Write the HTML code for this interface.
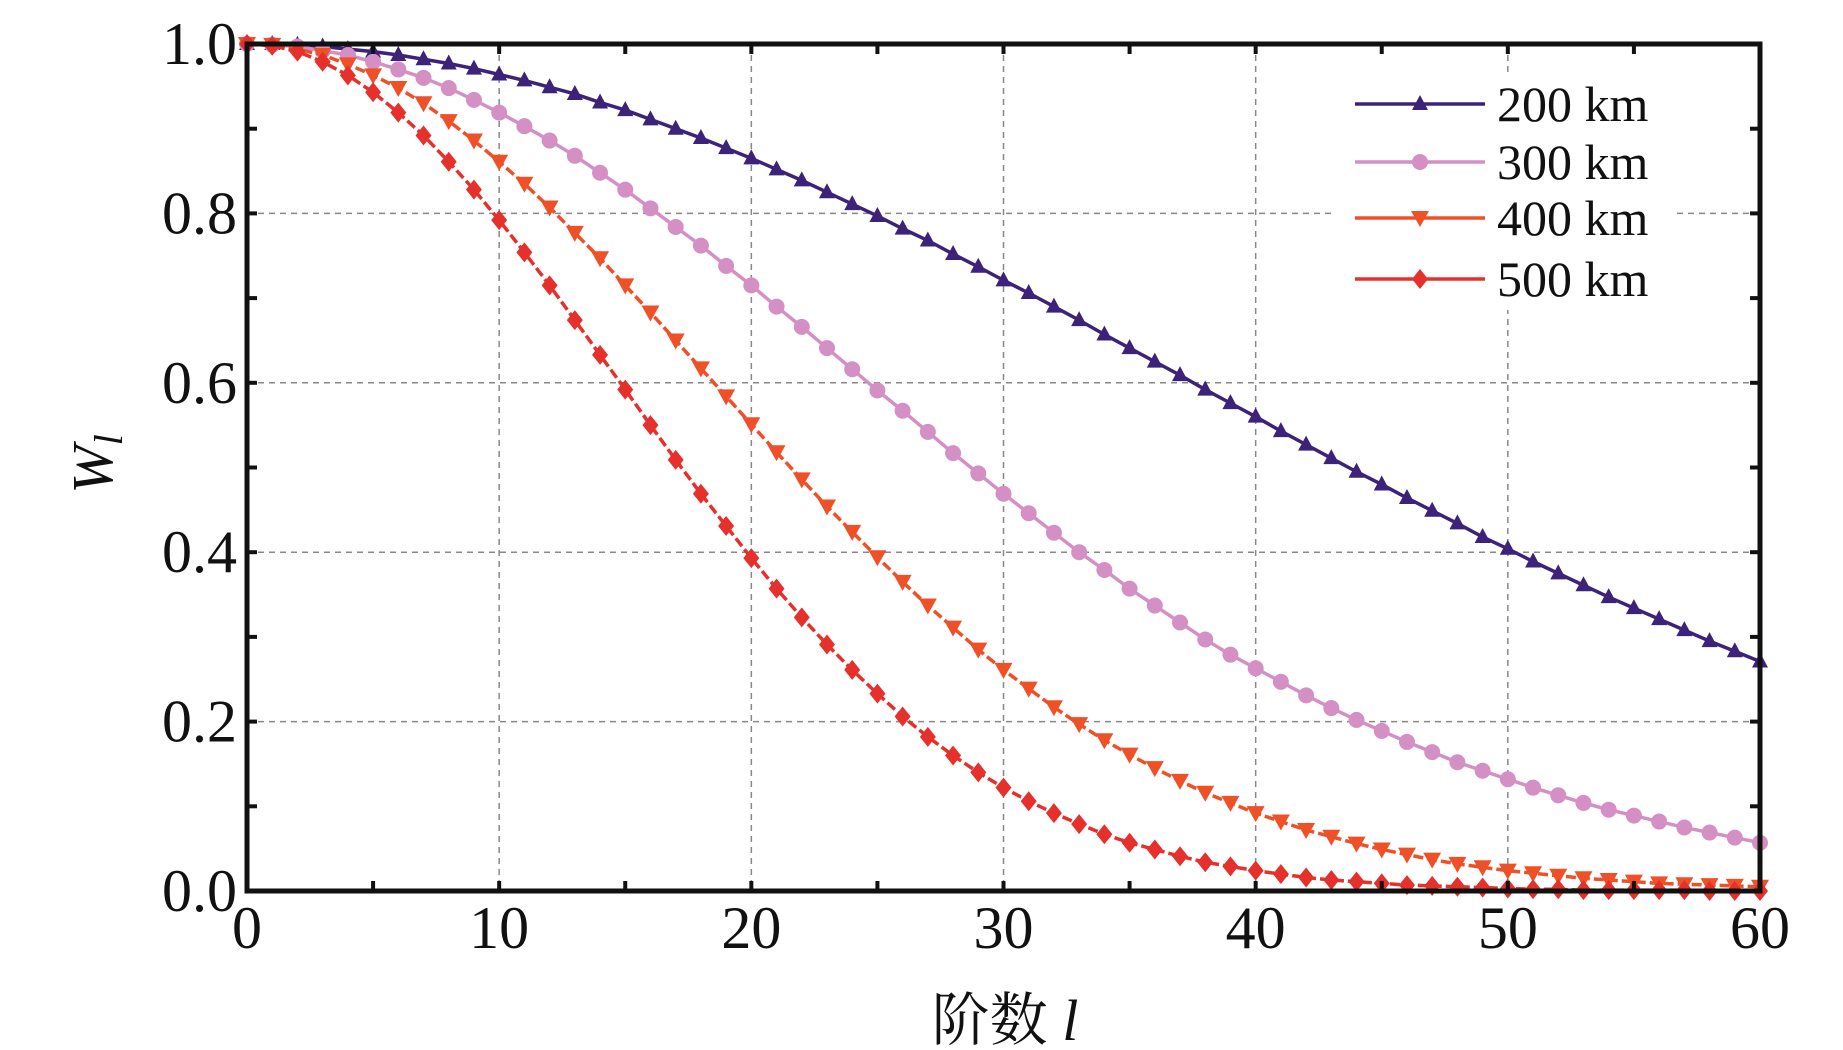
<!DOCTYPE html>
<html><head><meta charset="utf-8">
<style>
html,body{margin:0;padding:0;background:#fff;}
svg{display:block;}
text{font-family:"Liberation Serif","Times New Roman","DejaVu Serif","Noto Serif CJK SC",serif;fill:#111;}
</style></head>
<body>
<svg id="chart" width="1843" height="1050" xmlns="http://www.w3.org/2000/svg" font-family="Liberation Serif, Times New Roman, Noto Serif CJK SC, serif">
<g id="grid"></g>
<g id="series"></g>
<g id="legend"></g>
<g id="axes"></g>
<text x="1005" y="1040" font-size="58" text-anchor="middle">阶数 <tspan font-style="italic">l</tspan></text>
<text transform="translate(112,464) rotate(-90)" font-size="58" text-anchor="middle" font-style="italic">W<tspan font-size="40" dy="10">l</tspan></text>
</svg>
<script>
const xTicks = [0,10,20,30,40,50,60];
const yTicks = [0.0,0.2,0.4,0.6,0.8,1.0];
const yTickLabels = ["0.0","0.2","0.4","0.6","0.8","1.0"];
const seriesNames = ["200 km","300 km","400 km","500 km"];
const w200 = [1,1,.999,.997,.994,.991,.987,.982,.977,.971,.964,.957,.949,.941,.931,.922,.911,.900,.889,.877,.865,.852,.839,.825,.811,.797,.782,.768,.752,.737,.721,.706,.690,.674,.657,.641,.625,.609,.592,.576,.560,.543,.527,.511,.495,.480,.464,.449,.434,.418,.404,.389,.375,.361,.347,.334,.321,.308,.295,.283,.271];
const w300 = [1,.999,.997,.992,.987,.979,.970,.960,.948,.934,.919,.903,.886,.868,.848,.828,.806,.784,.762,.738,.715,.690,.666,.641,.616,.591,.567,.542,.517,.493,.469,.446,.423,.400,.379,.357,.337,.317,.297,.279,.263,.247,.231,.216,.202,.189,.176,.164,.152,.142,.132,.122,.113,.104,.096,.089,.082,.075,.069,.063,.057];
const w400 = [1,.999,.994,.987,.976,.963,.948,.930,.909,.886,.861,.835,.807,.777,.747,.715,.683,.650,.617,.584,.551,.518,.486,.454,.424,.394,.365,.337,.311,.285,.261,.239,.217,.197,.178,.161,.145,.130,.116,.104,.092,.082,.072,.064,.056,.049,.043,.037,.032,.028,.024,.021,.018,.015,.013,.011,.009,.008,.007,.006,.005];
const w500 = [1,.998,.991,.979,.963,.943,.919,.892,.861,.828,.792,.754,.715,.674,.633,.592,.550,.509,.469,.431,.393,.357,.323,.291,.261,.233,.206,.182,.160,.140,.122,.106,.092,.079,.067,.057,.049,.041,.034,.029,.024,.020,.016,.013,.011,.009,.007,.006,.005,.004,.003,.002,.002,.001,.001,.001,.001,.001,0,0,0];
const seriesData = [w200,w300,w400,w500];

const NS="http://www.w3.org/2000/svg";
const L=247,R=1760,T=44,B=891;
const xs=v=>L+(v-0)/(60-0)*(R-L);
const ys=v=>B-(v-0)/(1-0)*(B-T);
function mk(tag,attrs,parent){const e=document.createElementNS(NS,tag);for(const k in attrs)e.setAttribute(k,attrs[k]);parent.appendChild(e);return e;}
const grid=document.getElementById('grid'),axes=document.getElementById('axes'),ser=document.getElementById('series'),leg=document.getElementById('legend');
mk('rect',{x:L,y:T,width:R-L,height:B-T,fill:'#fff'},grid);
xTicks.forEach(t=>{if(t>0&&t<60){const g=mk('line',{x1:xs(t),x2:xs(t),y1:T,y2:B,stroke:'#888',"stroke-width":1.5,"stroke-dasharray":"6,5"},grid);

}});
yTicks.forEach(t=>{if(t>0&&t<1){const g=mk('line',{x1:L,x2:R,y1:ys(t),y2:ys(t),stroke:'#888',"stroke-width":1.5,"stroke-dasharray":"6,5"},grid);

}});
const colors=['#3d2279','#d48fc4','#ee5128','#e5302b'];
const dashes=['none','none','10,4','10,4'];
const shapes=['tri','circ','tridown','diam'];
function marker(shape,x,y,c,p){
 let e;
 if(shape==='tri')e=mk('polygon',{points:`${x},${y-9} ${x-8},${y+6} ${x+8},${y+6}`,fill:c},p);
 else if(shape==='circ')e=mk('circle',{cx:x,cy:y,r:8,fill:c},p);
 else if(shape==='tridown')e=mk('polygon',{points:`${x-9},${y-7} ${x+9},${y-7} ${x},${y+9}`,fill:c},p);
 else e=mk('polygon',{points:`${x},${y-10} ${x+8},${y} ${x},${y+10} ${x-8},${y}`,fill:c},p);
 return e;
}
seriesData.forEach((d,si)=>{
 const g=mk('g',{},ser);
 
 
 const pts=d.map((v,i)=>xs(i)+','+ys(v)).join(' ');
 const pl=mk('polyline',{points:pts,fill:'none',stroke:colors[si],"stroke-width":3.5,"stroke-dasharray":dashes[si]},g);
 
 
 d.forEach((v,i)=>{const m=marker(shapes[si],xs(i),ys(v),colors[si],g);
 
 });
});
// legend
mk('rect',{x:1336,y:72,width:340,height:238,fill:'#fff'},leg);
const legY=[104,162,218,279];
seriesNames.forEach((n,i)=>{
 const g=mk('g',{},leg);
 
 
 mk('line',{x1:1355,x2:1485,y1:legY[i],y2:legY[i],stroke:colors[i],"stroke-width":3.5},g);
 marker(shapes[i],1420,legY[i],colors[i],g);
 const t=mk('text',{x:1497,y:legY[i]+17,"font-size":50},g);t.textContent=n;
});
// axes frame
const fr=mk('rect',{x:L,y:T,width:R-L,height:B-T,fill:'none',stroke:'#111',"stroke-width":5},axes);


for(let v=0;v<=60;v+=5){
 mk('line',{x1:xs(v),x2:xs(v),y1:T,y2:T+10,stroke:'#111',"stroke-width":4},axes);
 mk('line',{x1:xs(v),x2:xs(v),y1:B,y2:B-10,stroke:'#111',"stroke-width":4},axes);
}
for(let k=0;k<=10;k++){const v=k/10;
 mk('line',{x1:L,x2:L+10,y1:ys(v),y2:ys(v),stroke:'#111',"stroke-width":4},axes);
 mk('line',{x1:R,x2:R-10,y1:ys(v),y2:ys(v),stroke:'#111',"stroke-width":4},axes);
}
xTicks.forEach(t=>{const e=mk('text',{x:xs(t),y:948,"font-size":60,"text-anchor":"middle"},axes);e.textContent=t;

});
yTicks.forEach((t,i)=>{const e=mk('text',{x:237,y:ys(t)+20,"font-size":60,"text-anchor":"end"},axes);e.textContent=yTickLabels[i];

});
</script>
</body></html>
